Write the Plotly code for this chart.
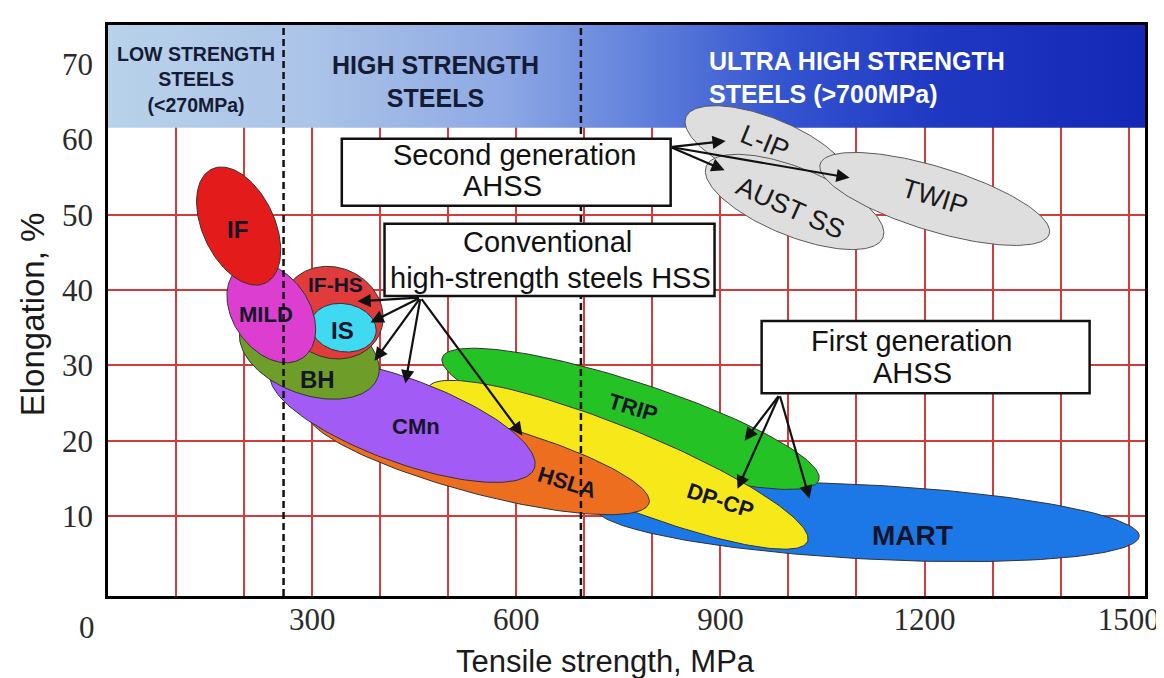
import numpy as np
import plotly.graph_objects as go

# ---------------- data ----------------
steels = ["MART", "TRIP", "DP-CP", "HSLA", "CMn", "BH", "IF-HS", "IS", "MILD", "IF",
          "L-IP", "AUST SS", "TWIP"]
center_ts = [1116, 768, 749, 544, 433, 296, 330, 346, 240, 192, 969, 1009, 1215]      # MPa
center_el = [9.2, 22.9, 16.8, 17.8, 22.7, 31.7, 37.0, 35.0, 37.0, 48.5, 58.6, 51.7, 52.1]  # %
halfspan_ts = [400, 291, 301, 260, 206, 107, 76, 48.5, 81, 92.6, 129, 140, 176]      # MPa
halfwidth_el = [4.92, 4.92, 5.05, 4.78, 5.58, 5.58, 5.98, 3.19, 5.05, 4.78, 4.25, 4.52, 4.25]  # %
tilt_deg = [3, 18, 22, 15, 20, 20, 25, 10, 55, 65, 22, 22, 17]

label_ts = [1183, 771, 900, 675, 453, 308, 334, 345, 232, 191, 965, 1003, 1215]
label_el = [7.35, 24.4, 12.0, 14.4, 21.9, 28.1, 40.7, 34.6, 36.7, 48.0, 59.6, 50.9, 52.3]
label_angle = [0, 17, 18, 17, 0, 0, 0, 0, 0, 0, 22, 24, 17]

strength_bounds = [258, 695]          # MPa, dashed class boundaries
band_bottom_el = 61.56                # %

x_tick_vals = [300, 600, 900, 1200, 1500]
x_tick_text = ["300", "600", "900", "1200", "1500"]
y_tick_vals = [10, 20, 30, 40, 50, 60, 70]
grid_x = list(range(100, 1600, 100))
grid_y = [10, 20, 30, 40, 50]

# group boxes: (ts_left, ts_right, el_top, el_bottom)
box_names = ["second", "conventional", "first"]
box_ts0 = [343.6, 406.4, 960.6]
box_ts1 = [826.9, 891.4, 1442.6]
box_el0 = [60.1, 48.8, 35.9]
box_el1 = [51.2, 39.2, 26.3]
box_line1 = ["Second generation", "Conventional", "First generation"]
box_line2 = ["AHSS", "high-strength steels HSS", "AHSS"]
box_l1_ts = [597.7, 645.9, 1181.5]
box_l1_el = [57.9, 46.4, 33.2]
box_l2_ts = [580.0, 650.3, 1183.0]
box_l2_el = [53.8, 41.6, 29.0]

# arrows: tail (ts, el) -> head (ts, el)
arrow_tail_ts = [826.9, 826.9, 826.9, 459.3, 459.3, 459.3, 459.3, 459.3, 987, 987, 987]
arrow_tail_el = [59.0, 59.0, 59.0, 39.0, 39.0, 39.0, 39.0, 39.0, 26.1, 26.1, 26.1]
arrow_head_ts = [907.7, 906.2, 1089.9, 366.7, 385.8, 391.7, 437.0, 609.0, 935.5, 925.2, 1031]
arrow_head_el = [59.8, 55.9, 54.9, 38.5, 35.7, 30.6, 27.6, 20.7, 20.0, 13.6, 12.3]

# ---------------- styles ----------------
fill_colors = {"MART": "#1b78e6", "TRIP": "#25c226", "DP-CP": "#f7e81a", "HSLA": "#ee6e1f",
               "CMn": "#a35bf5", "BH": "#6e9d29", "IF-HS": "#e03c3c", "IS": "#3fd9f2",
               "MILD": "#dc3fcf", "IF": "#e41b1b", "L-IP": "#dedede", "AUST SS": "#dedede",
               "TWIP": "#dedede"}
label_size = {"MART": 28, "TRIP": 22, "DP-CP": 22, "HSLA": 22, "CMn": 22, "BH": 24,
              "IF-HS": 21, "IS": 24, "MILD": 22, "IF": 24, "L-IP": 27, "AUST SS": 27, "TWIP": 27}
grey = {"L-IP", "AUST SS", "TWIP"}

W, H = 1164, 678
ML, MR, MT, MB = 100, 27, 17, 90
X_RANGE = [0, 1524]
Y_RANGE = [-0.63, 75.2]
sx = (W - ML - MR) / (X_RANGE[1] - X_RANGE[0])
sy = (H - MT - MB) / (Y_RANGE[1] - Y_RANGE[0])


def ellipse(cx, cy, a, b, tilt):
    t = np.linspace(0, 2 * np.pi, 181)
    u = a * sx * np.cos(t)
    v = b * sy * np.sin(t)
    th = np.radians(tilt)
    X = u * np.cos(th) - v * np.sin(th)
    Y = u * np.sin(th) + v * np.cos(th)
    return cx + X / sx, cy - Y / sy


fig = go.Figure()

# header band with gradient
fig.add_trace(go.Scatter(
    x=[X_RANGE[0], X_RANGE[1], X_RANGE[1], X_RANGE[0], X_RANGE[0]],
    y=[band_bottom_el, band_bottom_el, Y_RANGE[1], Y_RANGE[1], band_bottom_el],
    mode="lines", line=dict(width=0), fill="toself",
    fillgradient=dict(type="horizontal",
                      colorscale=[[0, "#b9d2ea"], [0.2, "#aac3e8"], [0.38, "#8ea9e4"],
                                  [0.52, "#5f7fdc"], [0.65, "#3454d0"], [0.8, "#1f38c2"],
                                  [1, "#1428b6"]]),
    hoverinfo="skip", showlegend=False))

for i, name in enumerate(steels):
    ex, ey = ellipse(center_ts[i], center_el[i], halfspan_ts[i], halfwidth_el[i], tilt_deg[i])
    fig.add_trace(go.Scatter(
        x=ex, y=ey, mode="lines", fill="toself", fillcolor=fill_colors[name],
        line=dict(color="#5a5a5a" if name in grey else "#333333", width=1),
        hoverinfo="skip", showlegend=False, name=name))

# dummy trace for the label axes
fig.add_trace(go.Scatter(x=[None], y=[None], xaxis="x2", yaxis="y2",
                         showlegend=False, hoverinfo="skip"))

shapes = []
for b in strength_bounds:
    shapes.append(dict(type="line", xref="x", yref="y", x0=b, x1=b, y0=Y_RANGE[0], y1=Y_RANGE[1],
                       line=dict(color="#111111", width=2.5, dash="7px,4px"), layer="above"))
for i in range(len(box_names)):
    shapes.append(dict(type="rect", xref="x", yref="y", x0=box_ts0[i], x1=box_ts1[i],
                       y0=box_el0[i], y1=box_el1[i], fillcolor="white",
                       line=dict(color="#111111", width=2.5), layer="above"))

ann = []
SANS = "Liberation Sans"
for i, name in enumerate(steels):
    ann.append(dict(x=label_ts[i], y=label_el[i], xref="x", yref="y", text=name,
                    showarrow=False, textangle=label_angle[i],
                    font=dict(family=SANS, size=label_size[name],
                              color="#1a1a1a" if name in grey else "#15152a",
                              weight="normal" if name in grey else "bold")))
for i in range(len(box_names)):
    ann.append(dict(x=box_l1_ts[i], y=box_l1_el[i], xref="x", yref="y", text=box_line1[i],
                    showarrow=False, font=dict(family=SANS, size=29, color="#111111")))
    ann.append(dict(x=box_l2_ts[i], y=box_l2_el[i], xref="x", yref="y", text=box_line2[i],
                    showarrow=False, font=dict(family=SANS, size=29, color="#111111")))
for i in range(len(arrow_tail_ts)):
    ann.append(dict(x=arrow_head_ts[i], y=arrow_head_el[i], ax=arrow_tail_ts[i], ay=arrow_tail_el[i],
                    xref="x", yref="y", axref="x", ayref="y", text="", showarrow=True,
                    arrowhead=2, arrowsize=1.2, arrowwidth=2.2, arrowcolor="#111111", standoff=0))

# header texts
ann.append(dict(x=128.6, y=67.9, xref="x", yref="y", showarrow=False,
                text="LOW STRENGTH<br>STEELS<br>(<270MPa)",
                font=dict(family=SANS, size=19.5, color="#151a35", weight="bold")))
ann.append(dict(x=481.6, y=67.7, xref="x", yref="y", showarrow=False,
                text="HIGH STRENGTH<br>STEELS",
                font=dict(family=SANS, size=25, color="#151a35", weight="bold")))
ann.append(dict(x=881, y=68.2, xref="x", yref="y", showarrow=False, xanchor="left", align="left",
                text="ULTRA HIGH STRENGTH<br>STEELS (>700MPa)",
                font=dict(family=SANS, size=25, color="white", weight="bold")))

# origin label and titles
ann.append(dict(x=-0.020, y=-0.056, xref="paper", yref="paper", text="0", showarrow=False,
                xanchor="center", yanchor="middle",
                font=dict(family="Liberation Serif", size=31, color="#2a2a2a")))
ann.append(dict(x=0.480, y=-0.114, xref="paper", yref="paper", text="Tensile strength, MPa",
                showarrow=False, xanchor="center", yanchor="middle",
                font=dict(family=SANS, size=31, color="#1a1a1a")))
ann.append(dict(x=-0.072, y=0.494, xref="paper", yref="paper", text="Elongation, %",
                showarrow=False, textangle=-90, xanchor="center", yanchor="middle",
                font=dict(family=SANS, size=33, color="#1a1a1a")))

GRID = "#d23c3c"
fig.update_layout(
    width=W, height=H, margin=dict(l=ML, r=MR, t=MT, b=MB),
    paper_bgcolor="white", plot_bgcolor="white", showlegend=False,
    xaxis=dict(range=X_RANGE, tickvals=grid_x, showticklabels=False, ticks="",
               showgrid=True, gridcolor=GRID, gridwidth=1.6, zeroline=False,
               showline=True, linecolor="black", linewidth=3, mirror=True),
    yaxis=dict(range=Y_RANGE, tickvals=grid_y, showticklabels=False, ticks="",
               showgrid=True, gridcolor=GRID, gridwidth=1.6, zeroline=False,
               showline=True, linecolor="black", linewidth=3, mirror=True),
    xaxis2=dict(range=X_RANGE, overlaying="x", anchor="y", side="bottom",
                tickvals=x_tick_vals, ticktext=x_tick_text, ticks="", showgrid=False,
                zeroline=False, showline=False, ticklabelstandoff=2,
                tickfont=dict(family="Liberation Serif", size=31, color="#2a2a2a")),
    yaxis2=dict(range=Y_RANGE, overlaying="y", anchor="x", side="left",
                tickvals=y_tick_vals, ticks="", showgrid=False, zeroline=False,
                showline=False, ticklabelstandoff=14,
                tickfont=dict(family="Liberation Serif", size=31, color="#2a2a2a")),
    shapes=shapes, annotations=ann,
)

fig.write_html("out.html")
